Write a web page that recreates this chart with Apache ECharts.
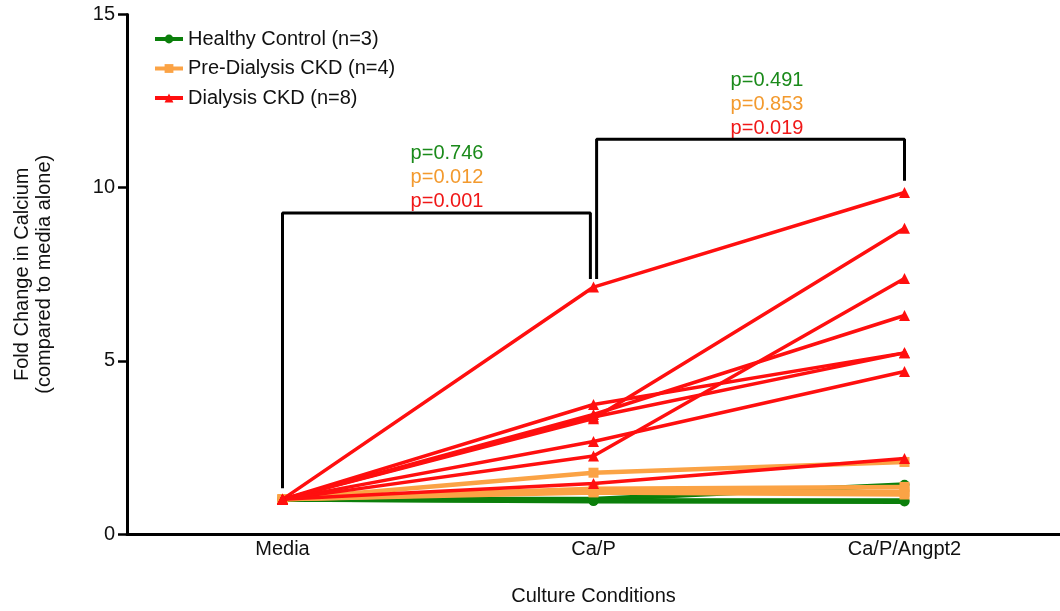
<!DOCTYPE html>
<html>
<head>
<meta charset="utf-8">
<script src="https://cdn.jsdelivr.net/npm/echarts@6/dist/echarts.min.js"></script>
<style>html,body{margin:0;padding:0;background:#fff}#c{width:1060px;height:611px}</style>
</head>
<body>
<div id="c"></div>
<script>
// ---- data ----
const categories = ['Media', 'Ca/P', 'Ca/P/Angpt2'];
const yTicks = [0, 5, 10, 15];
const healthyControl = [
  [1, 1.00, 1.42],
  [1, 0.97, 0.96],
  [1, 0.95, 0.94]
];
const preDialysis = [
  [1, 1.77, 2.08],
  [1, 1.31, 1.36],
  [1, 1.24, 1.22],
  [1, 1.20, 1.14]
];
const dialysis = [
  [1, 7.13, 9.86],
  [1, 3.74, 5.23],
  [1, 3.45, 6.31],
  [1, 3.38, 5.23],
  [1, 3.33, 8.83],
  [1, 2.67, 4.69],
  [1, 2.25, 7.38],
  [1, 1.46, 2.18]
];
const groupNames = ['Healthy Control (n=3)', 'Pre-Dialysis CKD (n=4)', 'Dialysis CKD (n=8)'];
// comparison brackets: [x, y] in category index / fold-change units
const bracketLeft = [[0, 1.32], [0, 9.27], [0.99, 9.27], [0.99, 7.36]];
const bracketRight = [[1.01, 7.36], [1.01, 11.4], [2, 11.4], [2, 10.2]];
const pLeft = ['p=0.746', 'p=0.012', 'p=0.001'];
const pRight = ['p=0.491', 'p=0.853', 'p=0.019'];

// ---- styles ----
const FONT = 'Liberation Sans, Arial, Helvetica, sans-serif';
const FS = 20;
const colors = ['#0b7f0b', '#fba345', '#ff0f0f'];
const textColors = ['#1a8a1a', '#f39a2e', '#f01818'];
const symbols = ['circle', 'rect', 'triangle'];
const widths = [5, 4.5, 3.5];

const series = [];
[healthyControl, preDialysis, dialysis].forEach((group, gi) => {
  group.forEach(row => {
    series.push({
      type: 'line',
      name: groupNames[gi],
      xAxisIndex: 1,
      data: row.map((v, i) => [i, v]),
      symbol: symbols[gi],
      symbolSize: gi === 2 ? 11 : 10,
      showSymbol: true,
      itemStyle: { color: colors[gi] },
      lineStyle: { color: colors[gi], width: widths[gi] },
      animation: false,
      z: 3 + gi
    });
  });
});
[bracketLeft, bracketRight].forEach(b => {
  series.push({
    type: 'line',
    xAxisIndex: 1,
    data: b,
    symbol: 'none',
    silent: true,
    lineStyle: { color: '#000', width: 3 },
    animation: false,
    z: 2
  });
});

const chart = echarts.init(document.getElementById('c'), null, { renderer: 'canvas' });
const graphics = [];
pLeft.forEach((t, i) => graphics.push({
  type: 'text', x: 447, y: 153 + i * 24,
  style: { text: t, fill: textColors[i], font: FS + 'px ' + FONT, textAlign: 'center', textVerticalAlign: 'middle' }
}));
pRight.forEach((t, i) => graphics.push({
  type: 'text', x: 767, y: 80 + i * 24,
  style: { text: t, fill: textColors[i], font: FS + 'px ' + FONT, textAlign: 'center', textVerticalAlign: 'middle' }
}));

chart.setOption({
  backgroundColor: '#fff',
  animation: false,
  textStyle: { fontFamily: FONT },
  grid: { left: 127, top: 14.5, width: 939, height: 521, containLabel: false },
  legend: {
    data: groupNames,
    orient: 'vertical',
    left: 148,
    top: 24,
    itemGap: 9.5,
    itemWidth: 28,
    itemHeight: 11,
    lineStyle: { width: 4 },
    textStyle: { fontSize: FS, color: '#111', fontFamily: FONT },
    selectedMode: false
  },
  xAxis: [
    {
      type: 'category',
      data: categories,
      boundaryGap: true,
      axisLine: { lineStyle: { color: '#000', width: 3 } },
      axisTick: { show: false },
      axisLabel: { fontSize: FS, color: '#111', margin: 5, fontFamily: FONT },
      name: 'Culture Conditions',
      nameLocation: 'middle',
      nameGap: 52,
      nameTextStyle: { fontSize: FS, color: '#111', fontFamily: FONT },
      splitLine: { show: false }
    },
    {
      type: 'value',
      min: -0.5,
      max: 2.5,
      show: false,
      splitLine: { show: false }
    }
  ],
  yAxis: {
    type: 'value',
    min: yTicks[0],
    max: yTicks[yTicks.length - 1],
    interval: yTicks[1] - yTicks[0],
    axisLine: { show: true, onZero: false, lineStyle: { color: '#000', width: 3 } },
    axisTick: { show: true, length: 9, lineStyle: { color: '#000', width: 2.5 } },
    axisLabel: { fontSize: FS, color: '#111', margin: 12, fontFamily: FONT },
    splitLine: { show: false },
    name: 'Fold Change in Calcium\n(compared to media alone)',
    nameLocation: 'middle',
    nameGap: 72,
    nameTextStyle: { fontSize: FS, color: '#111', lineHeight: 22, fontFamily: FONT }
  },
  graphic: graphics,
  series: series
});
</script>
</body>
</html>
